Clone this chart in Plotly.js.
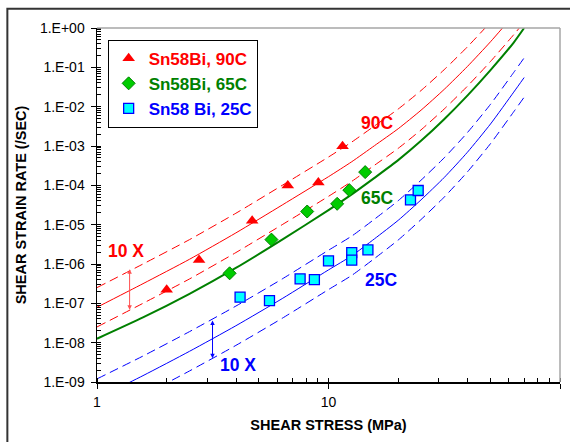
<!DOCTYPE html>
<html>
<head>
<meta charset="utf-8">
<script src="https://cdn.plot.ly/plotly-3.0.1.min.js"></script>
<style>html,body{margin:0;padding:0;background:#fff;}#chart{width:570px;height:442px;}</style>
</head>
<body>
<div id="chart"></div>
<script>
// ---- measured data (shear stress MPa, shear strain rate /s) ----
const stress90 = [2.0, 2.76, 4.68, 6.67, 9.04, 11.5];
const rate90   = [2.2e-7, 1.27e-6, 1.26e-5, 9.9e-5, 1.18e-4, 9.8e-4];

const stress65 = [3.74, 5.67, 8.09, 10.9, 12.3, 14.4];
const rate65   = [5.8e-7, 4.17e-6, 2.16e-5, 3.39e-5, 7.55e-5, 2.17e-4];

const stress25 = [4.15, 5.56, 7.54, 8.69, 10.0, 12.6, 12.6, 14.8, 22.6, 24.4];
const rate25   = [1.43e-7, 1.17e-7, 4.18e-7, 4.0e-7, 1.2e-6, 1.95e-6, 1.25e-6, 2.29e-6, 4.28e-5, 7.4e-5];

// model curves
const curveStress = [1, 1.58, 2.51, 3.98, 6.31, 10, 12.6, 15.8, 20, 25.1, 31.6, 39.8, 50.1, 63.1, 70];
const fit90     = [7.94e-8, 3.16e-7, 1.32e-6, 6.17e-6, 3.16e-5, 1.66e-4, 3.98e-4, 1.02e-3, 2.75e-3, 8.13e-3, 2.75e-2, 0.105, 0.447, 2.14, 4.42];
const fit90Hi   = [2.51e-7, 1.0e-6, 4.17e-6, 1.95e-5, 1.0e-4, 5.25e-4, 1.26e-3, 3.24e-3, 8.71e-3, 2.57e-2, 8.71e-2, 0.331, 1.41, 6.76, 14.0];
const fit90Lo   = [2.51e-8, 1.0e-7, 4.17e-7, 1.95e-6, 1.0e-5, 5.25e-5, 1.26e-4, 3.24e-4, 8.71e-4, 2.57e-3, 8.71e-3, 3.31e-2, 0.141, 0.676, 1.40];
const fit65     = [1.26e-8, 4.37e-8, 1.74e-7, 7.94e-7, 4.17e-6, 2.34e-5, 5.89e-5, 1.55e-4, 4.37e-4, 1.35e-3, 4.79e-3, 1.91e-2, 8.51e-2, 0.427, 1.0];
const fit25     = [3.8e-10, 1.45e-9, 6.03e-9, 2.69e-8, 1.32e-7, 7.08e-7, 1.62e-6, 4.37e-6, 1.29e-5, 4.27e-5, 1.58e-4, 6.92e-4, 3.63e-3, 2.34e-2, 5.5e-2];
const fit25Hi   = [1.2e-9, 4.57e-9, 1.91e-8, 8.51e-8, 4.17e-7, 2.24e-6, 5.13e-6, 1.38e-5, 4.07e-5, 1.35e-4, 5.01e-4, 2.19e-3, 1.15e-2, 7.41e-2, 0.174];
const fit25Lo   = [1.2e-10, 4.57e-10, 1.91e-9, 8.51e-9, 4.17e-8, 2.24e-7, 5.13e-7, 1.38e-6, 4.07e-6, 1.35e-5, 5.01e-5, 2.19e-4, 1.15e-3, 7.41e-3, 1.74e-2];

const seriesNames = ['Sn58Bi, 90C', 'Sn58Bi, 65C', 'Sn58 Bi, 25C'];

const yTickVals = [1e-9, 1e-8, 1e-7, 1e-6, 1e-5, 1e-4, 1e-3, 1e-2, 1e-1, 1];
const yTickText = ['1.E-09','1.E-08','1.E-07','1.E-06','1.E-05','1.E-04','1.E-03','1.E-02','1.E-01','1.E+00'];
const xTickVals = [1, 10, 100];
const xTickText = ['1', '10', '100'];

const FONT = 'Liberation Sans, Arial, sans-serif';
const RED = '#ff0000', GREEN = '#008000', BLUE = '#0000ff';

function curve(y, color, dash, width) {
  return {x: curveStress, y: y, mode: 'lines', showlegend: false, hoverinfo: 'skip',
          line: {color: color, width: width || 1, dash: dash || 'solid', shape: 'spline', smoothing: 0.6}};
}
const legName = (t, c) => '<span style="color:' + c + '"><b>' + t + '</b></span>';

const traces = [
  curve(fit90Hi, RED, '9px,5px'), curve(fit90, RED), curve(fit90Lo, RED, '9px,5px'),
  curve(fit65, GREEN, 'solid', 2),
  curve(fit25Hi, BLUE, '9px,5px'), curve(fit25, BLUE), curve(fit25Lo, BLUE, '9px,5px'),
  {x: stress90, y: rate90, mode: 'markers', name: legName(seriesNames[0], RED),
   marker: {symbol: 'triangle-up', size: 11, color: RED, line: {color: RED, width: 0}}},
  {x: stress65, y: rate65, mode: 'markers', name: legName(seriesNames[1], GREEN),
   marker: {symbol: 'diamond', size: 10, color: '#00cc00', line: {color: '#008000', width: 1}}},
  {x: stress25, y: rate25, mode: 'markers', name: legName(seriesNames[2], BLUE),
   marker: {symbol: 'square', size: 10, color: '#00ffff', line: {color: BLUE, width: 1.3}}},
  {x: [], y: [], xaxis: 'x2', yaxis: 'y2', showlegend: false, hoverinfo: 'skip', mode: 'markers'}
];

const ann = (x, y, text, color) => ({x: Math.log10(x), y: Math.log10(y), xref: 'x', yref: 'y', text: '<b>' + text + '</b>',
  showarrow: false, font: {family: FONT, size: 17.5, color: color}});
const arrow = (x, y0, y1, color) => ({x: Math.log10(x), y: Math.log10(y1), ax: Math.log10(x), ay: Math.log10(y0),
  xref: 'x', yref: 'y', axref: 'x', ayref: 'y', text: '', showarrow: true, arrowside: 'end+start',
  arrowhead: 2, arrowsize: 0.9, arrowwidth: 1, arrowcolor: color, standoff: 0, startstandoff: 0});

const layout = {
  width: 570, height: 442,
  margin: {l: 97, r: 10, t: 28, b: 60},
  paper_bgcolor: '#ffffff', plot_bgcolor: '#ffffff',
  font: {family: FONT, size: 14, color: '#000'},
  showlegend: true,
  legend: {x: 0.023, y: 0.967, xanchor: 'left', yanchor: 'top', bgcolor: '#ffffff',
           bordercolor: '#000', borderwidth: 1, font: {family: FONT, size: 17},
           tracegroupgap: 0},
  xaxis: {type: 'log', range: [0, 2], tickmode: 'array', tickvals: xTickVals, ticktext: xTickText,
          ticks: 'outside', ticklen: 5, tickcolor: '#000', showline: true, linecolor: '#000', linewidth: 1.5,
          showgrid: false, zeroline: false, ticklabelstandoff: 2,
          minor: {dtick: 'D1', ticks: 'inside', ticklen: 4, tickcolor: '#000', showgrid: false},
          title: {text: '<b>SHEAR STRESS (MPa)</b>', font: {family: FONT, size: 14.5}, standoff: 10}},
  yaxis: {type: 'log', range: [-9, 0], tickmode: 'array', tickvals: yTickVals, ticktext: yTickText,
          ticks: 'outside', ticklen: 5, tickcolor: '#000', showline: true, linecolor: '#000', linewidth: 1.5,
          showgrid: false, zeroline: false, ticklabelstandoff: 3,
          minor: {dtick: 'D1', ticks: 'inside', ticklen: 4, tickcolor: '#000', showgrid: false},
          title: {text: '<b>SHEAR STRAIN RATE (/SEC)</b>', font: {family: FONT, size: 14.5}, standoff: 10}},
  xaxis2: {type: 'log', range: [0, 2], overlaying: 'x', anchor: 'y2', side: 'bottom', tickmode: 'array', tickvals: xTickVals,
           ticks: 'inside', ticklen: 3, tickcolor: '#000', showticklabels: false, showline: false, showgrid: false, zeroline: false},
  yaxis2: {type: 'log', range: [-9, 0], overlaying: 'y', anchor: 'x2', side: 'left', tickmode: 'array', tickvals: yTickVals,
           ticks: 'inside', ticklen: 3, tickcolor: '#000', showticklabels: false, showline: false, showgrid: false, zeroline: false},
  shapes: [
    {type: 'line', xref: 'paper', yref: 'paper', x0: 0, x1: 1, y0: 1, y1: 1, line: {color: '#a6a6a6', width: 1.5}},
    {type: 'line', xref: 'paper', yref: 'paper', x0: 1, x1: 1, y0: 0, y1: 1, line: {color: '#a6a6a6', width: 1.5}},
    {type: 'rect', xref: 'paper', yref: 'paper', x0: -0.1936, x1: 1.03, y0: -0.18, y1: 1.0546,
     line: {color: '#333', width: 2}, fillcolor: 'rgba(0,0,0,0)', layer: 'above'}
  ],
  annotations: [
    ann(1.34, 2.15e-6, '10 X', RED),
    ann(4.07, 2.7e-9, '10 X', BLUE),
    ann(16.2, 3.74e-3, '90C', RED),
    ann(16.2, 4.72e-5, '65C', GREEN),
    ann(16.9, 4.0e-7, '25C', BLUE),
    arrow(1.383, 8.0e-7, 6.9e-8, '#ff5050'),
    arrow(3.155, 4.0e-8, 4.0e-9, BLUE)
  ]
};

Plotly.newPlot('chart', traces, layout, {staticPlot: true, displayModeBar: false});
</script>
</body>
</html>
